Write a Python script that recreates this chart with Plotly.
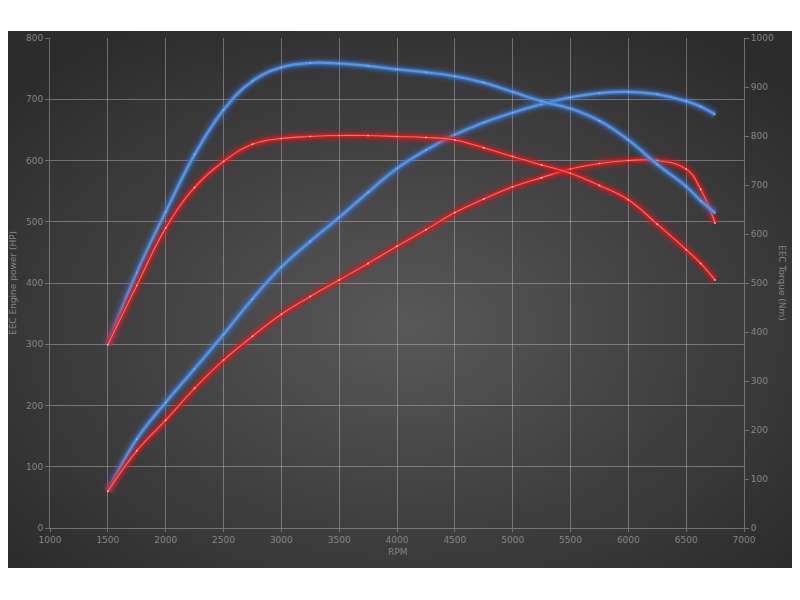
import base64
import plotly.graph_objects as go

# dyno sweep, stock (red) vs tuned (blue)
rpm = [1500, 1750, 2000, 2250, 2500, 2750, 3000, 3250, 3500, 3750, 4000, 4250,
       4500, 4750, 5000, 5250, 5500, 5750, 6000, 6250, 6500, 6625, 6750]

tuned_hp = [60, 145, 205, 260, 316, 374, 426, 468, 507, 548, 587, 617,
            642, 662, 678, 692, 703, 710, 712, 708, 697, 688, 675]
stock_hp = [60, 126, 176, 228, 274, 313, 349, 378, 405, 432, 460, 487,
            515, 537, 557, 572, 586, 595, 600, 600, 586, 553, 498]

tuned_nm = [374, 521, 645, 762, 853, 912, 940, 949, 948, 943, 936, 930,
            922, 909, 890, 871, 856, 831, 792, 742, 697, 668, 643]
stock_nm = [374, 495, 612, 695, 748, 783, 795, 799, 801, 801, 799, 797,
            792, 776, 758, 741, 724, 699, 670, 620, 568, 540, 506]

x_ticks = list(range(1000, 7001, 500))
hp_ticks = list(range(0, 801, 100))
nm_ticks = list(range(0, 1001, 100))

tick_col = "#858585"
grid_col = "rgba(200,200,200,0.42)"

blue_style = dict(glow=(60, 125, 215), core="rgb(90,148,222)", core_w=2.2,
                  dot="rgba(190,215,255,0.4)")
red_style = dict(glow=(225, 25, 25), core="rgb(255,105,105)", core_w=1.1,
                 dot="rgba(255,210,210,0.75)")


def rgba(c, a):
    return "rgba(%d,%d,%d,%s)" % (c[0], c[1], c[2], a)


def glow_line(fig, y, st, axis):
    # fake the neon glow with stacked translucent lines
    for w, a in [(14, 0.08), (9.5, 0.15), (6, 0.4), (3.5, 0.65)]:
        fig.add_trace(go.Scatter(x=rpm, y=y, yaxis=axis, mode="lines",
                                 line=dict(color=rgba(st["glow"], a), width=w, shape="spline", smoothing=1.2),
                                 hoverinfo="skip", showlegend=False))
    fig.add_trace(go.Scatter(x=rpm, y=y, yaxis=axis, mode="lines+markers",
                             line=dict(color=st["core"], width=st["core_w"], shape="spline", smoothing=1.2),
                             marker=dict(size=2, color=st["dot"]),
                             showlegend=False))


fig = go.Figure()
glow_line(fig, tuned_hp, blue_style, "y")
glow_line(fig, tuned_nm, blue_style, "y2")
glow_line(fig, stock_hp, red_style, "y")
glow_line(fig, stock_nm, red_style, "y2")

# radial gradient backdrop as an svg image
svg = ('<svg xmlns="http://www.w3.org/2000/svg" width="800" height="537" viewBox="0 0 800 537" '
       'preserveAspectRatio="none"><defs><radialGradient id="g" cx="50%" cy="55%" r="65%">'
       '<stop offset="0" stop-color="#585858"/><stop offset="1" stop-color="#2c2c2c"/>'
       '</radialGradient></defs><rect width="800" height="537" fill="url(#g)"/></svg>')
bg_src = "data:image/svg+xml;base64," + base64.b64encode(svg.encode()).decode()

# page body has an 8px margin, so the figure is 792x592 and shifted margins
ml, mr, mt, mb = 42, 56, 30, 72
pw, ph = 792 - ml - mr, 592 - mt - mb
fig.add_layout_image(dict(source=bg_src, xref="paper", yref="paper",
                          x=-ml / pw, y=(mt + ph - 23) / ph, sizex=792 / pw, sizey=537 / ph,
                          xanchor="left", yanchor="top", sizing="stretch", layer="below"))

axis_font = dict(family="DejaVu Sans", size=9, color=tick_col)

fig.update_layout(
    width=792, height=592,
    margin=dict(l=ml, r=mr, t=mt, b=mb),
    paper_bgcolor="white",
    plot_bgcolor="rgba(0,0,0,0)",
    font=axis_font,
    showlegend=False,
    xaxis=dict(range=[1000, 7000], tickvals=x_ticks, showgrid=True, gridcolor=grid_col,
               zeroline=False, showline=True, linecolor=grid_col, ticks="outside",
               ticklen=3, tickcolor=grid_col, tickfont=axis_font),
    yaxis=dict(range=[0, 800], tickvals=hp_ticks, showgrid=True, gridcolor=grid_col,
               zeroline=False, showline=True, linecolor=grid_col, ticks="outside",
               ticklen=4, tickcolor=grid_col, tickfont=axis_font),
    yaxis2=dict(range=[0, 1000], tickvals=nm_ticks, overlaying="y", side="right",
                showgrid=False, zeroline=False, showline=True, linecolor=grid_col,
                ticks="outside", ticklen=4, tickcolor=grid_col, tickfont=axis_font),
)

fig.add_annotation(text="RPM", xref="paper", yref="paper", x=0.5, y=-24 / ph,
                   showarrow=False, font=axis_font, yanchor="middle")
fig.add_annotation(text="EEC Engine power (HP)", xref="paper", yref="paper",
                   x=-37 / pw, y=0.5, textangle=-90, showarrow=False, font=axis_font,
                   xanchor="center", yanchor="middle")
fig.add_annotation(text="EEC Torque (Nm)", xref="paper", yref="paper",
                   x=1 + 38 / pw, y=0.5, textangle=90, showarrow=False, font=axis_font,
                   xanchor="center", yanchor="middle")

fig.write_html("out.html")
